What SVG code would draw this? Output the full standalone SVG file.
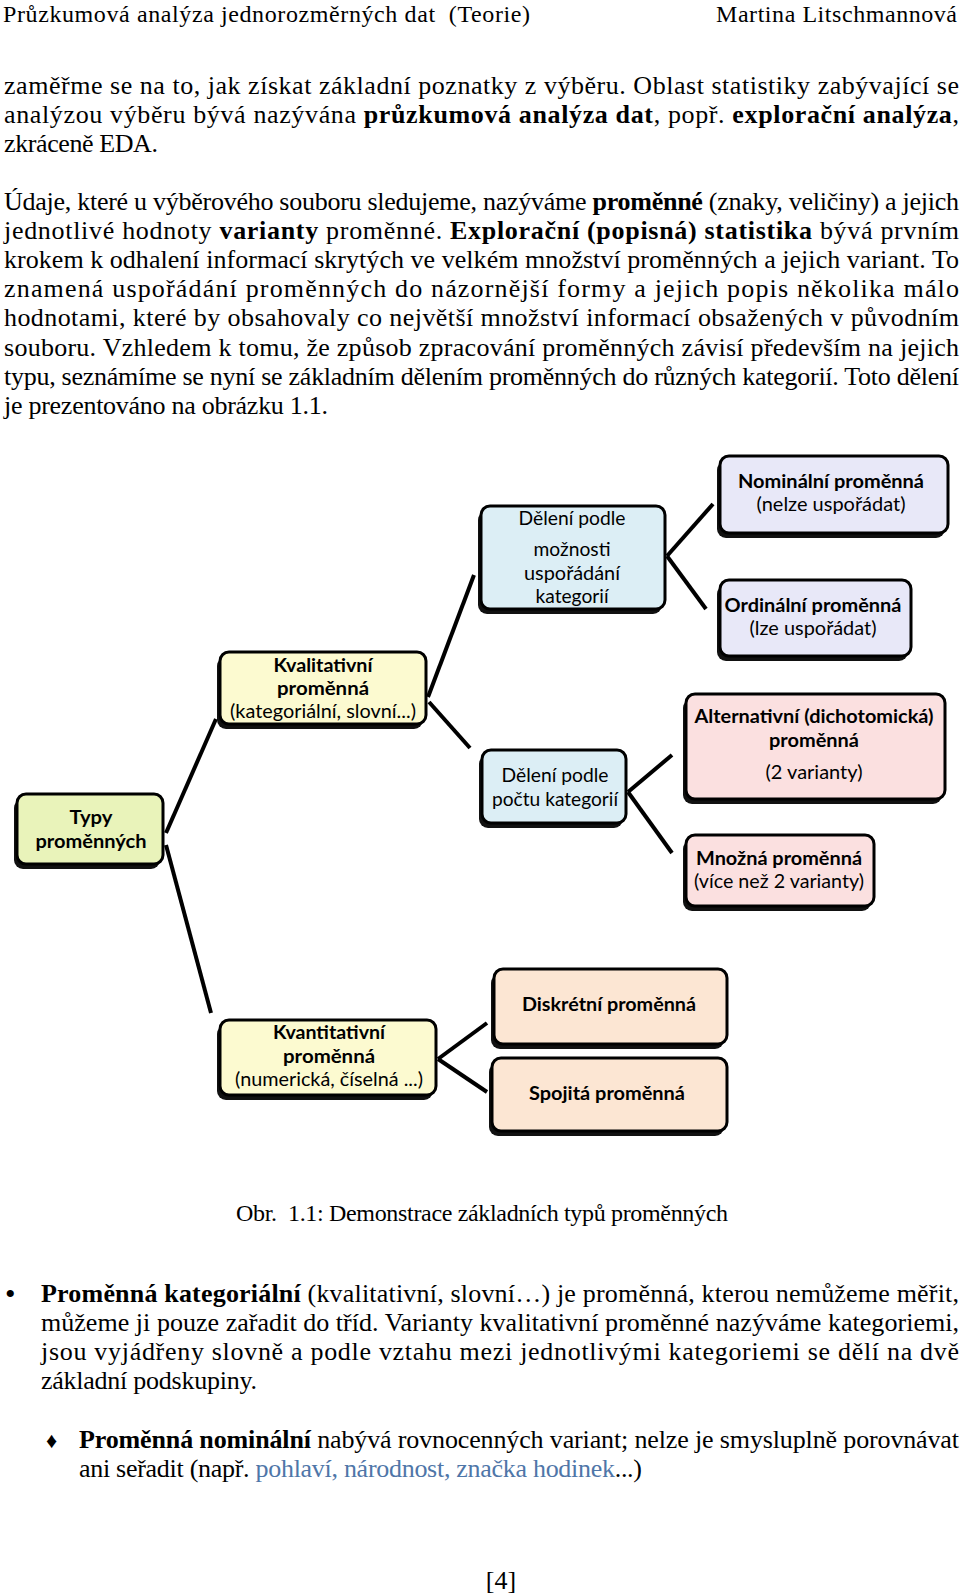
<svg xmlns="http://www.w3.org/2000/svg" width="960" height="1596" viewBox="0 0 960 1596">
<style>
.t{font-family:"Liberation Serif","Times New Roman",serif;font-size:26px;fill:#000}
.s{font-size:24px}
.b{font-weight:bold}
.lbl{font-family:Lato,"Open Sans","Liberation Sans",sans-serif;font-size:19px;fill:#000;text-anchor:middle}
.lb{font-weight:bold}
.sh{fill:#111}
.box{stroke:#000;stroke-width:3}
.c{stroke:#000;stroke-width:4;fill:none;stroke-linecap:butt}
.g1{fill:#E9F3BA}.g2{fill:#FCFAD0}.g3{fill:#DCEEF5}.g4{fill:#E8E8F8}.g5{fill:#FBE0E0}.g6{fill:#FCE6D3}
</style>
<rect width="960" height="1596" fill="#fff"/>
<g id="page-text">
<text class="t s" x="3" y="22" textLength="527" lengthAdjust="spacing">Průzkumová analýza jednorozměrných dat&#160; (Teorie)</text>
<text class="t s" x="716" y="22" textLength="241" lengthAdjust="spacing">Martina Litschmannová</text>
<text class="t" x="4" y="94" textLength="955" lengthAdjust="spacing">zaměřme se na to, jak získat základní poznatky z výběru. Oblast statistiky zabývající se</text>
<text class="t" x="4" y="123" textLength="955" lengthAdjust="spacing">analýzou výběru bývá nazývána <tspan class="b">průzkumová analýza dat</tspan>, popř. <tspan class="b">explorační analýza</tspan>,</text>
<text class="t" x="4" y="152" textLength="154" lengthAdjust="spacing">zkráceně EDA.</text>
<text class="t" x="4" y="210" textLength="955" lengthAdjust="spacing">Údaje, které u výběrového souboru sledujeme, nazýváme <tspan class="b">proměnné</tspan> (znaky, veličiny) a jejich</text>
<text class="t" x="4" y="239" textLength="955" lengthAdjust="spacing">jednotlivé hodnoty <tspan class="b">varianty</tspan> proměnné. <tspan class="b">Explorační (popisná) statistika</tspan> bývá prvním</text>
<text class="t" x="4" y="268" textLength="955" lengthAdjust="spacing">krokem k odhalení informací skrytých ve velkém množství proměnných a jejich variant. To</text>
<text class="t" x="4" y="297" textLength="955" lengthAdjust="spacing">znamená uspořádání proměnných do názornější formy a jejich popis několika málo</text>
<text class="t" x="4" y="326" textLength="955" lengthAdjust="spacing">hodnotami, které by obsahovaly co největší množství informací obsažených v původním</text>
<text class="t" x="4" y="356" textLength="955" lengthAdjust="spacing">souboru. Vzhledem k tomu, že způsob zpracování proměnných závisí především na jejich</text>
<text class="t" x="4" y="385" textLength="955" lengthAdjust="spacing">typu, seznámíme se nyní se základním dělením proměnných do různých kategorií. Toto dělení</text>
<text class="t" x="4" y="414" textLength="324" lengthAdjust="spacing">je prezentováno na obrázku 1.1.</text>
<text class="t s" x="236" y="1221" textLength="492" lengthAdjust="spacing">Obr.&#160; 1.1: Demonstrace základních typů proměnných</text>
<text class="t" x="5" y="1304" style="font-size:30px">•</text>
<text class="t" x="41" y="1302" textLength="918" lengthAdjust="spacing"><tspan class="b">Proměnná kategoriální</tspan> (kvalitativní, slovní…) je proměnná, kterou nemůžeme měřit,</text>
<text class="t" x="41" y="1331" textLength="918" lengthAdjust="spacing">můžeme ji pouze zařadit do tříd. Varianty kvalitativní proměnné nazýváme kategoriemi,</text>
<text class="t" x="41" y="1360" textLength="918" lengthAdjust="spacing">jsou vyjádřeny slovně a podle vztahu mezi jednotlivými kategoriemi se dělí na dvě</text>
<text class="t" x="41" y="1389" textLength="216" lengthAdjust="spacing">základní podskupiny.</text>
<text class="t" x="46" y="1448" style="font-size:22px">♦</text>
<text class="t" x="79" y="1448" textLength="880" lengthAdjust="spacing"><tspan class="b">Proměnná nominální</tspan> nabývá rovnocenných variant; nelze je smysluplně porovnávat</text>
<text class="t" x="79" y="1477" textLength="563" lengthAdjust="spacing">ani seřadit (např. <tspan fill="#4F76A8">pohlaví, národnost, značka hodinek</tspan>...)</text>
<text class="t" x="501" y="1589" text-anchor="middle">[4]</text>
</g>
<g id="connectors">
<line class="c" x1="166" y1="833" x2="216" y2="719"/>
<line class="c" x1="166" y1="845" x2="211" y2="1013"/>
<line class="c" x1="428" y1="697" x2="474" y2="575"/>
<line class="c" x1="429" y1="702" x2="470" y2="748"/>
<line class="c" x1="667" y1="556" x2="713" y2="504"/>
<line class="c" x1="667" y1="556" x2="706" y2="609"/>
<line class="c" x1="628" y1="792" x2="672" y2="755"/>
<line class="c" x1="628" y1="792" x2="672" y2="853"/>
<line class="c" x1="438" y1="1059" x2="487" y2="1023"/>
<line class="c" x1="438" y1="1059" x2="487" y2="1092"/>
</g>
<g id="n-typy">
<rect class="sh" x="14" y="799" width="146" height="70" rx="9"/>
<rect class="box g1" x="17" y="794" width="146" height="70" rx="9"/>
<text class="lbl lb" x="91" y="824" textLength="43" lengthAdjust="spacingAndGlyphs">Typy</text>
<text class="lbl lb" x="91" y="848" textLength="111" lengthAdjust="spacingAndGlyphs">proměnných</text>
</g>
<g id="n-kvalitativni">
<rect class="sh" x="217" y="657" width="206" height="72" rx="9"/>
<rect class="box g2" x="220" y="652" width="206" height="72" rx="9"/>
<text class="lbl lb" x="323" y="672" textLength="99" lengthAdjust="spacingAndGlyphs">Kvalitativní</text>
<text class="lbl lb" x="323" y="695" textLength="92" lengthAdjust="spacingAndGlyphs">proměnná</text>
<text class="lbl" x="323" y="718" textLength="186" lengthAdjust="spacingAndGlyphs">(kategoriální, slovní...)</text>
</g>
<g id="n-kvantitativni">
<rect class="sh" x="217" y="1025" width="216" height="75" rx="9"/>
<rect class="box g2" x="220" y="1020" width="216" height="75" rx="9"/>
<text class="lbl lb" x="329" y="1039" textLength="112" lengthAdjust="spacingAndGlyphs">Kvantitativní</text>
<text class="lbl lb" x="329" y="1063" textLength="92" lengthAdjust="spacingAndGlyphs">proměnná</text>
<text class="lbl" x="329" y="1086" textLength="188" lengthAdjust="spacingAndGlyphs">(numerická, číselná ...)</text>
</g>
<g id="n-deleni-usporadani">
<rect class="sh" x="478" y="511" width="184" height="103" rx="9"/>
<rect class="box g3" x="481" y="506" width="184" height="103" rx="9"/>
<text class="lbl" x="572" y="525" textLength="107" lengthAdjust="spacingAndGlyphs">Dělení podle</text>
<text class="lbl" x="572" y="556" textLength="77" lengthAdjust="spacingAndGlyphs">možnosti</text>
<text class="lbl" x="572" y="580" textLength="96" lengthAdjust="spacingAndGlyphs">uspořádání</text>
<text class="lbl" x="572" y="603" textLength="73" lengthAdjust="spacingAndGlyphs">kategorií</text>
</g>
<g id="n-deleni-poctu">
<rect class="sh" x="479" y="755" width="144" height="73" rx="9"/>
<rect class="box g3" x="482" y="750" width="144" height="73" rx="9"/>
<text class="lbl" x="555" y="782" textLength="107" lengthAdjust="spacingAndGlyphs">Dělení podle</text>
<text class="lbl" x="555" y="806" textLength="126" lengthAdjust="spacingAndGlyphs">počtu kategorií</text>
</g>
<g id="n-nominalni">
<rect class="sh" x="717" y="461" width="228" height="77" rx="9"/>
<rect class="box g4" x="720" y="456" width="228" height="77" rx="9"/>
<text class="lbl lb" x="831" y="488" textLength="186" lengthAdjust="spacingAndGlyphs">Nominální proměnná</text>
<text class="lbl" x="831" y="511" textLength="149" lengthAdjust="spacingAndGlyphs">(nelze uspořádat)</text>
</g>
<g id="n-ordinalni">
<rect class="sh" x="717" y="585" width="191" height="76" rx="9"/>
<rect class="box g4" x="720" y="580" width="191" height="76" rx="9"/>
<text class="lbl lb" x="813" y="612" textLength="177" lengthAdjust="spacingAndGlyphs">Ordinální proměnná</text>
<text class="lbl" x="813" y="635" textLength="127" lengthAdjust="spacingAndGlyphs">(lze uspořádat)</text>
</g>
<g id="n-alternativni">
<rect class="sh" x="683" y="699" width="259" height="105" rx="9"/>
<rect class="box g5" x="686" y="694" width="259" height="105" rx="9"/>
<text class="lbl lb" x="814" y="723" textLength="239" lengthAdjust="spacingAndGlyphs">Alternativní (dichotomická)</text>
<text class="lbl lb" x="814" y="747" textLength="90" lengthAdjust="spacingAndGlyphs">proměnná</text>
<text class="lbl" x="814" y="779" textLength="97" lengthAdjust="spacingAndGlyphs">(2 varianty)</text>
</g>
<g id="n-mnozna">
<rect class="sh" x="683" y="840" width="188" height="71" rx="9"/>
<rect class="box g5" x="686" y="835" width="188" height="71" rx="9"/>
<text class="lbl lb" x="779" y="865" textLength="166" lengthAdjust="spacingAndGlyphs">Množná proměnná</text>
<text class="lbl" x="779" y="888" textLength="170" lengthAdjust="spacingAndGlyphs">(více než 2 varianty)</text>
</g>
<g id="n-diskretni">
<rect class="sh" x="491" y="974" width="233" height="75" rx="9"/>
<rect class="box g6" x="494" y="969" width="233" height="75" rx="9"/>
<text class="lbl lb" x="609" y="1011" textLength="174" lengthAdjust="spacingAndGlyphs">Diskrétní proměnná</text>
</g>
<g id="n-spojita">
<rect class="sh" x="489" y="1063" width="235" height="73" rx="9"/>
<rect class="box g6" x="492" y="1058" width="235" height="73" rx="9"/>
<text class="lbl lb" x="607" y="1100" textLength="156" lengthAdjust="spacingAndGlyphs">Spojitá proměnná</text>
</g>
</svg>
